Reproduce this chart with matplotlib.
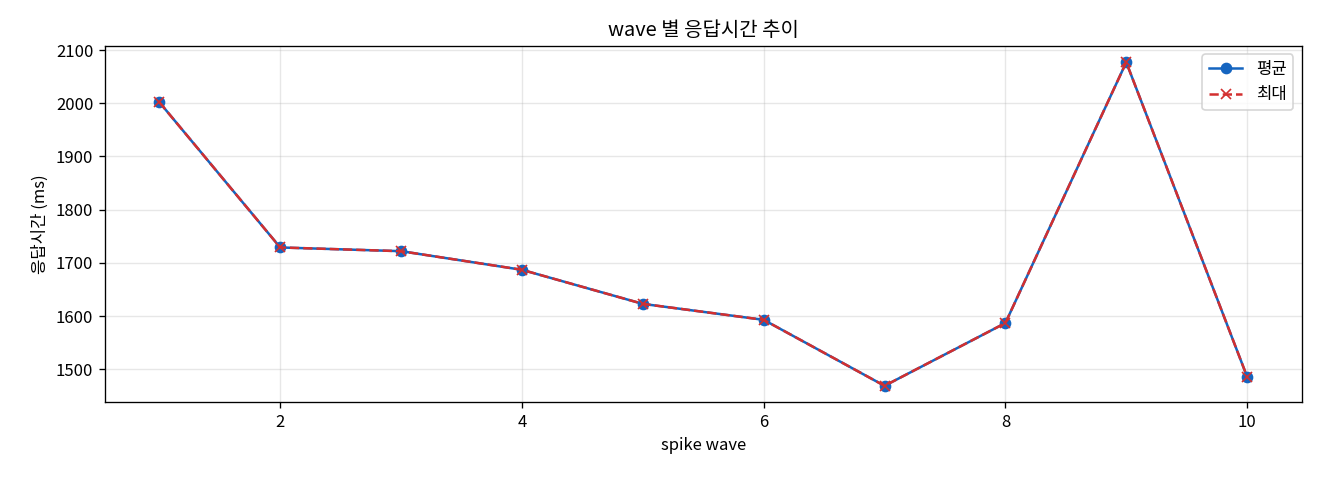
import matplotlib
matplotlib.use("Agg")
import matplotlib.pyplot as plt

# wave 별 응답시간 데이터 (ms)
waves = [1, 2, 3, 4, 5, 6, 7, 8, 9, 10]
avg_ms = [2002, 1729, 1722, 1687, 1623, 1593, 1469, 1587, 2077, 1486]
max_ms = [2002, 1729, 1722, 1687, 1623, 1593, 1469, 1587, 2077, 1486]

plt.rcParams['font.family'] = ['Noto Sans CJK KR', 'DejaVu Sans']
plt.rcParams['axes.unicode_minus'] = False

fig, ax = plt.subplots(figsize=(11, 4), dpi=120)
ax.plot(waves, avg_ms, marker='o', color='#1565C0', label='평균')
ax.plot(waves, max_ms, marker='x', linestyle='--', color='#D32F2F', label='최대')

ax.set_title('wave 별 응답시간 추이')
ax.set_xlabel('spike wave')
ax.set_ylabel('응답시간 (ms)')
ax.grid(True, alpha=0.3)
ax.legend(loc='upper right')

fig.subplots_adjust(left=0.0795, right=0.986, top=0.904, bottom=0.1625)
plt.savefig('out.png')
